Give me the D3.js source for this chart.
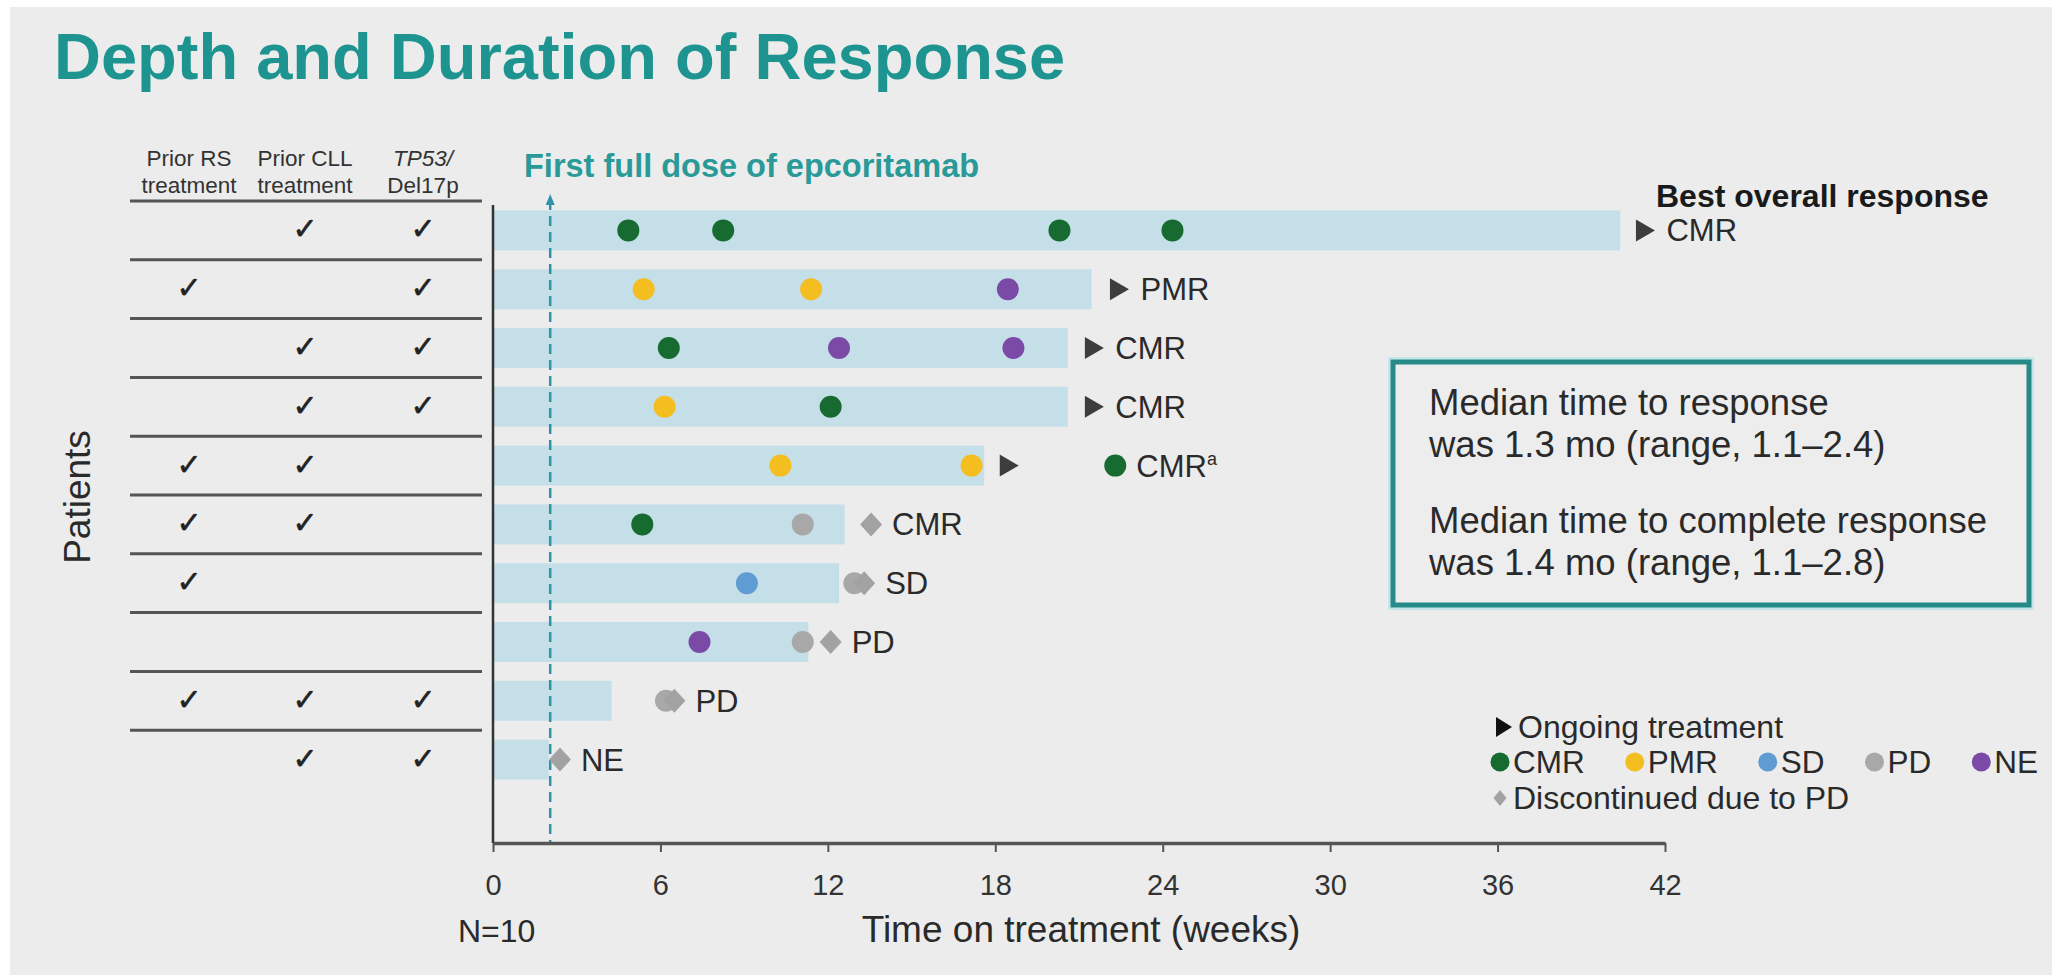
<!DOCTYPE html>
<html>
<head>
<meta charset="utf-8">
<script src="https://cdn.jsdelivr.net/npm/d3@7"></script>
<style>
  html, body { margin: 0; padding: 0; background: #fff; }
  svg { display: block; font-family: "Liberation Sans", Arial, sans-serif; }
</style>
</head>
<body>
<svg id="chart" width="2052" height="975"></svg>
<script>
  // ---- Data ----------------------------------------------------------------
  var patients = ['P1', 'P2', 'P3', 'P4', 'P5', 'P6', 'P7', 'P8', 'P9', 'P10'];
  var priorRS    = [0, 1, 0, 0, 1, 1, 1, 0, 1, 0];
  var priorCLL   = [1, 0, 1, 1, 1, 1, 0, 0, 1, 1];
  var tp53Del17p = [1, 1, 1, 1, 0, 0, 0, 0, 1, 1];

  // time on treatment (weeks)
  var treatmentWeeks = [40.4, 21.45, 20.6, 20.6, 17.6, 12.6, 12.4, 11.3, 4.25, 2.0];

  // response assessments per patient: [week, response]
  var assessments = [
    [[4.85, 'CMR'], [8.25, 'CMR'], [20.3, 'CMR'], [24.35, 'CMR']],
    [[5.4, 'PMR'], [11.4, 'PMR'], [18.45, 'NE']],
    [[6.3, 'CMR'], [12.4, 'NE'], [18.65, 'NE']],
    [[6.15, 'PMR'], [12.1, 'CMR']],
    [[10.3, 'PMR'], [17.15, 'PMR'], [22.3, 'CMR']],
    [[5.35, 'CMR'], [11.1, 'PD']],
    [[9.1, 'SD'], [12.95, 'PD']],
    [[7.4, 'NE'], [11.1, 'PD']],
    [[6.2, 'PD']],
    []
  ];
  var ongoingWeek      = [41.3, 22.45, 21.55, 21.55, 18.5, null, null, null, null, null];
  var discontinuedWeek = [null, null, null, null, null, 13.55, 13.3, 12.1, 6.5, 2.4];
  var bestResponse     = ['CMR', 'PMR', 'CMR', 'CMR', 'CMR', 'CMR', 'SD', 'PD', 'PD', 'NE'];
  var bestFootnote     = ['', '', '', '', 'a', '', '', '', '', ''];

  var xTicks = [0, 6, 12, 18, 24, 30, 36, 42];
  var firstFullDoseWeek = 2.05;

  var tableColumns = [
    { lines: ['Prior RS', 'treatment'], italic: [false, false], flags: priorRS },
    { lines: ['Prior CLL', 'treatment'], italic: [false, false], flags: priorCLL },
    { lines: ['TP53/', 'Del17p'], italic: [true, false], flags: tp53Del17p }
  ];
  var responseTypes = ['CMR', 'PMR', 'SD', 'PD', 'NE'];
  var medianNotes = [
    ['Median time to response', 'was 1.3 mo (range, 1.1\u20132.4)'],
    ['Median time to complete response', 'was 1.4 mo (range, 1.1\u20132.8)']
  ];

  // ---- Styles --------------------------------------------------------------
  var COLORS = {
    CMR: '#176b31', PMR: '#f4bd20', SD: '#5e9cd3', PD: '#a8a8a8', NE: '#7a4aa6',
    bar: '#c5dfe8', diamond: '#a2a2a2', arrow: '#3d3d3d',
    teal: '#1d9490', dose: '#3193a6', text: '#2a2a2a', bg: '#ececec'
  };
  var DOT_R = 11;

  var svg = d3.select('#chart');
  svg.append('rect').attr('x', 10).attr('y', 7).attr('width', 2042).attr('height', 968)
    .attr('fill', COLORS.bg);

  svg.append('text')
    .attr('x', 54).attr('y', 79)
    .attr('font-size', 65).attr('font-weight', 'bold')
    .attr('fill', COLORS.teal)
    .text('Depth and Duration of Response');

  // ---- Scales --------------------------------------------------------------
  var x = d3.scaleLinear().domain([0, 42]).range([493, 1665]);
  var y = d3.scaleBand().domain(patients).range([201, 789])
    .paddingInner(0.32).paddingOuter(0.16);
  var step = y.step();
  function rowMid(p) { return y(p) + y.bandwidth() / 2; }

  // ---- Left table ----------------------------------------------------------
  var colX = [189, 305, 423];
  var table = svg.append('g');
  tableColumns.forEach(function(col, ci) {
    col.lines.forEach(function(line, li) {
      table.append('text')
        .attr('x', colX[ci]).attr('y', 166 + li * 27)
        .attr('text-anchor', 'middle')
        .attr('font-size', 22.5)
        .attr('font-style', col.italic[li] ? 'italic' : 'normal')
        .attr('fill', '#333')
        .text(line);
    });
    patients.forEach(function(p, i) {
      if (!col.flags[i]) return;
      table.append('text')
        .attr('x', colX[ci]).attr('y', rowMid(p) + 9)
        .attr('text-anchor', 'middle')
        .attr('font-family', '"DejaVu Sans", sans-serif')
        .attr('font-size', 30).attr('font-weight', 'bold')
        .attr('fill', '#222').attr('stroke', '#222').attr('stroke-width', 0.6)
        .text('\u2713');
    });
  });
  var sepY = [201].concat(patients.slice(0, -1).map(function(p) {
    return y(p) - step * 0.16 + step;
  }));
  table.selectAll('line.sep').data(sepY).enter().append('line')
    .attr('x1', 130).attr('x2', 482)
    .attr('y1', function(d) { return d; }).attr('y2', function(d) { return d; })
    .attr('stroke', '#555').attr('stroke-width', 3);

  svg.append('text')
    .attr('transform', 'translate(90,497) rotate(-90)')
    .attr('text-anchor', 'middle')
    .attr('font-size', 37)
    .attr('fill', COLORS.text)
    .text('Patients');

  // ---- Bars ----------------------------------------------------------------
  var plot = svg.append('g');
  plot.selectAll('rect.bar').data(patients).enter().append('rect')
    .attr('x', x(0))
    .attr('y', function(p) { return y(p); })
    .attr('width', function(p, i) { return x(treatmentWeeks[i]) - x(0); })
    .attr('height', y.bandwidth())
    .attr('fill', COLORS.bar);

  // first full dose line
  var doseX = x(firstFullDoseWeek);
  plot.append('line')
    .attr('x1', doseX).attr('x2', doseX).attr('y1', 200).attr('y2', 843)
    .attr('stroke', COLORS.dose).attr('stroke-width', 2.5)
    .attr('stroke-dasharray', '10,6');
  plot.append('path')
    .attr('d', 'M' + (doseX - 4.5) + ',205L' + doseX + ',194L' + (doseX + 4.5) + ',205Z')
    .attr('fill', COLORS.dose);
  svg.append('text')
    .attr('x', 524).attr('y', 177)
    .attr('font-size', 32.5).attr('font-weight', 'bold')
    .attr('fill', '#2a9a98')
    .text('First full dose of epcoritamab');

  // axes
  svg.append('line')
    .attr('x1', x(0)).attr('x2', x(0)).attr('y1', 205).attr('y2', 843)
    .attr('stroke', '#333').attr('stroke-width', 2.5);

  var xAxis = d3.axisBottom(x).tickValues(xTicks).tickSize(9).tickSizeOuter(0).tickPadding(22);
  var gx = svg.append('g').attr('transform', 'translate(0,843)').call(xAxis);
  gx.select('.domain').attr('stroke', '#555').attr('stroke-width', 3.5);
  gx.selectAll('.tick line').attr('stroke', '#555').attr('stroke-width', 2);
  gx.selectAll('.tick text')
    .attr('font-family', '"Liberation Sans", Arial, sans-serif')
    .attr('font-size', 29).attr('fill', '#333');

  svg.append('text')
    .attr('x', 1081).attr('y', 942).attr('text-anchor', 'middle')
    .attr('font-size', 37).attr('fill', COLORS.text)
    .text('Time on treatment (weeks)');
  svg.append('text')
    .attr('x', 458).attr('y', 942)
    .attr('font-size', 32).attr('fill', COLORS.text)
    .text('N=10');

  // ---- Markers -------------------------------------------------------------
  function diamondPath(cx, cy, hw, hh) {
    return 'M' + cx + ',' + (cy - hh) + 'L' + (cx + hw) + ',' + cy +
      'L' + cx + ',' + (cy + hh) + 'L' + (cx - hw) + ',' + cy + 'Z';
  }
  function trianglePath(cx, cy, hw, hh) {
    return 'M' + (cx - hw) + ',' + (cy - hh) + 'L' + (cx + hw) + ',' + cy +
      'L' + (cx - hw) + ',' + (cy + hh) + 'Z';
  }

  patients.forEach(function(p, i) {
    var cy = rowMid(p);
    assessments[i].forEach(function(a) {
      plot.append('circle')
        .attr('cx', x(a[0])).attr('cy', cy).attr('r', DOT_R)
        .attr('fill', COLORS[a[1]]);
    });
    if (discontinuedWeek[i] != null) {
      plot.append('path')
        .attr('d', diamondPath(x(discontinuedWeek[i]), cy, 11, 12))
        .attr('fill', COLORS.diamond);
    }
    if (ongoingWeek[i] != null) {
      plot.append('path')
        .attr('d', trianglePath(x(ongoingWeek[i]), cy, 9.5, 11))
        .attr('fill', COLORS.arrow);
    }
    var anchor = d3.max([ongoingWeek[i], discontinuedWeek[i]]
      .concat(assessments[i].map(function(a) { return a[0]; }))
      .filter(function(v) { return v != null; }));
    var lbl = plot.append('text')
      .attr('x', x(anchor) + 21).attr('y', cy + 11)
      .attr('font-size', 31).attr('fill', COLORS.text)
      .text(bestResponse[i]);
    if (bestFootnote[i]) {
      lbl.append('tspan').attr('font-size', 18).attr('dy', -12).text(bestFootnote[i]);
    }
  });

  svg.append('text')
    .attr('x', 1656).attr('y', 207)
    .attr('font-size', 32).attr('font-weight', 'bold').attr('fill', '#1a1a1a')
    .text('Best overall response');

  // ---- Median box ----------------------------------------------------------
  var box = svg.append('g');
  box.append('rect').attr('x', 1393).attr('y', 362).attr('width', 636).attr('height', 243)
    .attr('fill', 'none').attr('stroke', '#c4e6ea').attr('stroke-width', 10);
  box.append('rect').attr('x', 1393).attr('y', 362).attr('width', 636).attr('height', 243)
    .attr('fill', '#ededed').attr('stroke', '#268b88').attr('stroke-width', 5);
  medianNotes.forEach(function(note, ni) {
    note.forEach(function(line, li) {
      box.append('text')
        .attr('x', 1429).attr('y', 415 + ni * 118 + li * 42)
        .attr('font-size', 36.5).attr('fill', COLORS.text)
        .text(line);
    });
  });

  // ---- Legend --------------------------------------------------------------
  var lg = svg.append('g');
  lg.append('path').attr('d', trianglePath(1504, 727, 8, 10)).attr('fill', '#111');
  lg.append('text').attr('x', 1518).attr('y', 738)
    .attr('font-size', 32).attr('fill', COLORS.text).text('Ongoing treatment');

  var lx = 1500;
  responseTypes.forEach(function(r) {
    lg.append('circle').attr('cx', lx).attr('cy', 762).attr('r', 9.5).attr('fill', COLORS[r]);
    var t = lg.append('text').attr('x', lx + 13).attr('y', 773)
      .attr('font-size', 31.5).attr('fill', COLORS.text).text(r);
    lx += 13 + t.node().getComputedTextLength() + 50;
  });

  lg.append('path').attr('d', diamondPath(1500, 798, 6.5, 8)).attr('fill', COLORS.diamond);
  lg.append('text').attr('x', 1513).attr('y', 809)
    .attr('font-size', 32).attr('fill', COLORS.text).text('Discontinued due to PD');
</script>
</body>
</html>
